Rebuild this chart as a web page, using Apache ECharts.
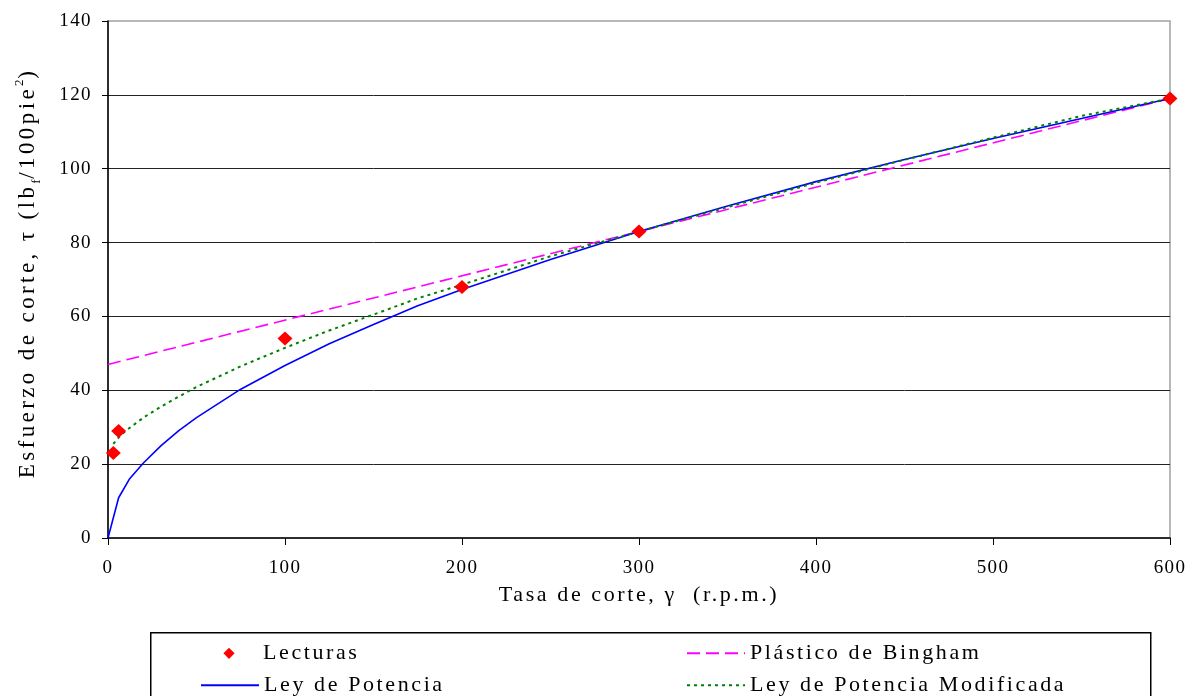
<!DOCTYPE html>
<html>
<head>
<meta charset="utf-8">
<script src="https://cdn.jsdelivr.net/npm/echarts@6/dist/echarts.min.js"></script>
<style>
  html, body { margin: 0; padding: 0; background: #fff; }
  #chart { width: 1201px; height: 696px; }
</style>
</head>
<body>
<div id="chart"></div>
<script>
// Letter spacing tied to font size (measurement and drawing stay consistent)
(function () {
  var desc = Object.getOwnPropertyDescriptor(CanvasRenderingContext2D.prototype, 'font');
  if (!desc || !desc.set) return;
  Object.defineProperty(CanvasRenderingContext2D.prototype, 'font', {
    configurable: true,
    get: function () { return desc.get.call(this); },
    set: function (v) {
      desc.set.call(this, v);
      if ('letterSpacing' in this) {
        var m = /(\d+(?:\.\d+)?)px/.exec(v);
        var s = m ? parseFloat(m[1]) : 12;
        this.letterSpacing = (s >= 23 ? 3.4 : (s >= 21 ? 2.6 : (s >= 17 ? 1.4 : 0.6))) + 'px';
      }
    }
  });
})();

// ---- Data ----
var seriesNames = ['Lecturas', 'Plástico de Bingham', 'Ley de Potencia', 'Ley de Potencia Modificada'];

var lecturasX = [3, 6, 100, 200, 300, 600];
var lecturasY = [23, 29, 54, 68, 83, 119];

var binghamX = [0, 600];
var binghamY = [47, 119];

var potenciaX = [0, 6, 12, 20, 30, 40, 50, 75, 100, 125, 150, 175, 200, 250, 300, 350, 400, 450, 500, 550, 600];
var potenciaY = [0, 10.9, 15.9, 20.3, 25, 29.1, 32.6, 40.3, 46.7, 52.6, 57.8, 62.9, 67.3, 75.4, 83, 89.9, 96.5, 102.5, 108.2, 113.6, 119];

var modificadaX = [3, 6, 10, 20, 30, 40, 50, 75, 100, 125, 150, 175, 200, 250, 300, 350, 400, 450, 500, 550, 600];
var modificadaY = [25.5, 27.2, 29, 32.6, 35.6, 38.3, 40.9, 46.5, 51.5, 56.2, 60.5, 64.9, 68.6, 76.3, 83, 89.6, 96.2, 102.4, 108.4, 114.3, 119];

var xTicks = { min: 0, max: 600, interval: 100 };
var yTicks = { min: 0, max: 140, interval: 20 };

function pairs(xs, ys) { return xs.map(function (x, i) { return [x, ys[i]]; }); }

var FONT = '"Liberation Serif", "Times New Roman", serif';

var chart = echarts.init(document.getElementById('chart'), null, { renderer: 'canvas' });

function legendOne(name, left, top, hideSymbol) {
  var item = { name: name };
  if (hideSymbol) item.itemStyle = { opacity: 0 };
  return {
    orient: 'horizontal', left: left, top: top, padding: 0,
    itemWidth: 58, itemHeight: 14, itemGap: 10,
    data: [item],
    textStyle: { fontFamily: FONT, fontSize: 22, color: '#000', lineHeight: 14 }
  };
}

var option = {
  backgroundColor: '#ffffff',
  animation: false,
  grid: {
    left: 108, right: 31, top: 21, bottom: 158,
    show: true, borderColor: '#a0a0a0', borderWidth: 1.5, backgroundColor: 'transparent'
  },
  xAxis: {
    type: 'value',
    min: xTicks.min, max: xTicks.max, interval: xTicks.interval,
    name: 'Tasa de corte, γ  (r.p.m.)',
    nameLocation: 'middle',
    nameGap: 44,
    nameTextStyle: { fontFamily: FONT, fontSize: 22, color: '#000' },
    axisLine: { show: true, lineStyle: { color: '#000', width: 1.5 } },
    axisTick: { show: true, inside: false, length: 7, lineStyle: { color: '#000', width: 1 } },
    axisLabel: { fontFamily: FONT, fontSize: 19, color: '#000', margin: 20 },
    splitLine: { show: false }
  },
  yAxis: {
    type: 'value',
    min: yTicks.min, max: yTicks.max, interval: yTicks.interval,
    axisLine: { show: true, lineStyle: { color: '#000', width: 1.5 } },
    axisTick: { show: true, inside: false, length: 6, lineStyle: { color: '#000', width: 1 } },
    axisLabel: { fontFamily: FONT, fontSize: 19, color: '#000', margin: 16 },
    splitLine: { show: true, showMinLine: false, showMaxLine: false, lineStyle: { color: '#222', width: 1 } }
  },
  legend: [
    legendOne(seriesNames[0], 200, 641, false),
    legendOne(seriesNames[2], 200, 673, true),
    legendOne(seriesNames[1], 686, 641, true),
    legendOne(seriesNames[3], 686, 673, true)
  ],
  graphic: [
    {
      type: 'rect', left: 150, top: 632, silent: true,
      shape: { width: 1000, height: 90 },
      style: { fill: 'transparent', stroke: '#000', lineWidth: 1.5 }
    },
    {
      type: 'text', x: 28, y: 273, rotation: Math.PI / 2, silent: true,
      style: {
        text: 'Esfuerzo de corte, τ (lb{sub|f}/100pie{sup|2})',
        font: '23px ' + FONT,
        fill: '#000', align: 'center', verticalAlign: 'middle', lineHeight: 30,
        rich: {
          sub: { fontFamily: FONT, fontSize: 13, fill: '#000', verticalAlign: 'bottom', lineHeight: 30 },
          sup: { fontFamily: FONT, fontSize: 13, fill: '#000', verticalAlign: 'top', lineHeight: 30 }
        }
      }
    }
  ],
  series: [
    {
      name: seriesNames[1], type: 'line', data: pairs(binghamX, binghamY),
      showSymbol: false, symbol: 'none', z: 2,
      lineStyle: { color: '#ff00ff', width: 1.6, type: [13, 6] },
      itemStyle: { color: '#ff00ff' }
    },
    {
      name: seriesNames[2], type: 'line', data: pairs(potenciaX, potenciaY),
      showSymbol: false, symbol: 'none', z: 3,
      lineStyle: { color: '#0000ff', width: 1.6, type: 'solid' },
      itemStyle: { color: '#0000ff' }
    },
    {
      name: seriesNames[3], type: 'line', data: pairs(modificadaX, modificadaY),
      showSymbol: false, symbol: 'none', z: 4,
      lineStyle: { color: '#008000', width: 2, type: [3, 4] },
      itemStyle: { color: '#008000' }
    },
    {
      name: seriesNames[0], type: 'line', data: pairs(lecturasX, lecturasY),
      symbol: 'diamond', symbolSize: [15, 14], showSymbol: true, z: 5,
      lineStyle: { width: 0, opacity: 0 },
      itemStyle: { color: '#ff0000' }
    }
  ]
};

chart.setOption(option);
</script>
</body>
</html>
